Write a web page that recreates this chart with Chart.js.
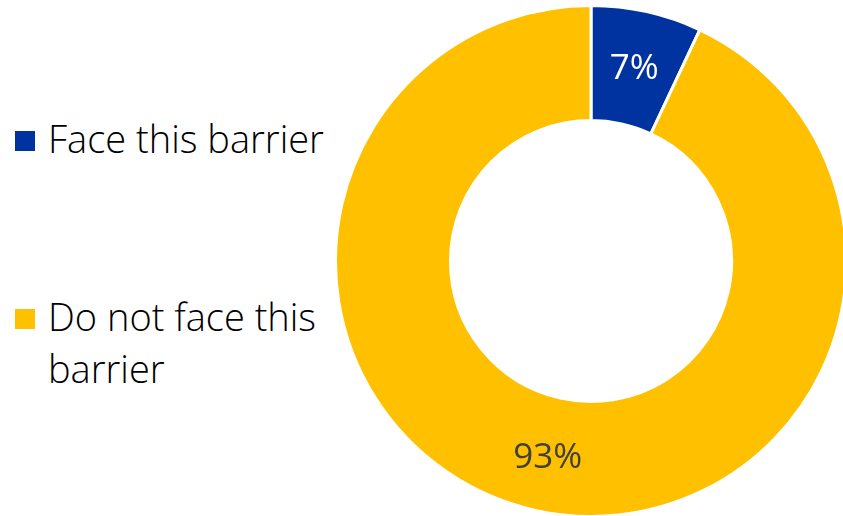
<!DOCTYPE html>
<html>
<head>
<meta charset="utf-8">
<script src="https://cdn.jsdelivr.net/npm/chart.js@4/dist/chart.umd.min.js"></script>
<style>
  html, body { margin: 0; padding: 0; background: #ffffff; overflow: hidden; width: 843px; height: 516px; }
  #wrap { position: relative; width: 843px; height: 516px; overflow: hidden; }
  #chart { position: absolute; left: 334px; top: 4px; }
  #legend { position: absolute; left: 0; top: 0; font-family: "Open Sans", sans-serif; font-weight: 300; color: #000; }
  .item { position: absolute; left: 15px; width: 320px; }
  .sw { position: absolute; left: 0; width: 20px; height: 20px; }
  .txt { position: absolute; left: 33px; white-space: nowrap; line-height: 52px; }
</style>
</head>
<body>
<div id="wrap">
  <div id="legend"></div>
  <canvas id="chart" width="514" height="514"></canvas>
</div>
<script>
const categories = ["Face this barrier", "Do not face this barrier"];
const legendLines = [["Face this barrier"], ["Do not face this", "barrier"]];
const values = [7, 93];
const valueLabels = ["7%", "93%"];
const colors = ["#0033A0", "#FFC000"];
const labelColors = ["#ffffff", "#404040"];

// HTML legend
const legend = document.getElementById('legend');
const itemTops = [112, 290];
const swatchTops = [19, 19];
const fontSize = 38;
categories.forEach((c, i) => {
  const item = document.createElement('div');
  item.className = 'item';
  item.style.top = itemTops[i] + 'px';
  const sw = document.createElement('div');
  sw.className = 'sw';
  sw.style.background = colors[i];
  sw.style.top = swatchTops[i] + 'px';
  item.appendChild(sw);
  const t = document.createElement('div');
  t.className = 'txt';
  t.style.fontSize = fontSize + 'px';
  t.style.top = '0px';
  t.innerHTML = legendLines[i].join('<br>');
  item.appendChild(t);
  legend.appendChild(item);
});

const sliceLabels = {
  id: 'sliceLabels',
  afterDatasetsDraw(chart) {
    const ctx = chart.ctx;
    const meta = chart.getDatasetMeta(0);
    ctx.save();
    ctx.font = '400 35px "Open Sans", sans-serif';
    ctx.textAlign = 'center';
    ctx.textBaseline = 'middle';
    meta.data.forEach((arc, i) => {
      const p = arc.getCenterPoint();
      ctx.fillStyle = labelColors[i];
      ctx.fillText(valueLabels[i], p.x, p.y + (i === 1 ? 4 : 1));
    });
    ctx.restore();
  }
};

new Chart(document.getElementById('chart'), {
  type: 'doughnut',
  data: {
    labels: categories,
    datasets: [{
      data: values,
      backgroundColor: colors,
      borderColor: '#ffffff',
      borderWidth: 3
    }]
  },
  options: {
    responsive: false,
    animation: false,
    cutout: '55%',
    layout: { padding: 0 },
    plugins: {
      legend: { display: false },
      tooltip: { enabled: false }
    }
  },
  plugins: [sliceLabels]
});
</script>
</body>
</html>
